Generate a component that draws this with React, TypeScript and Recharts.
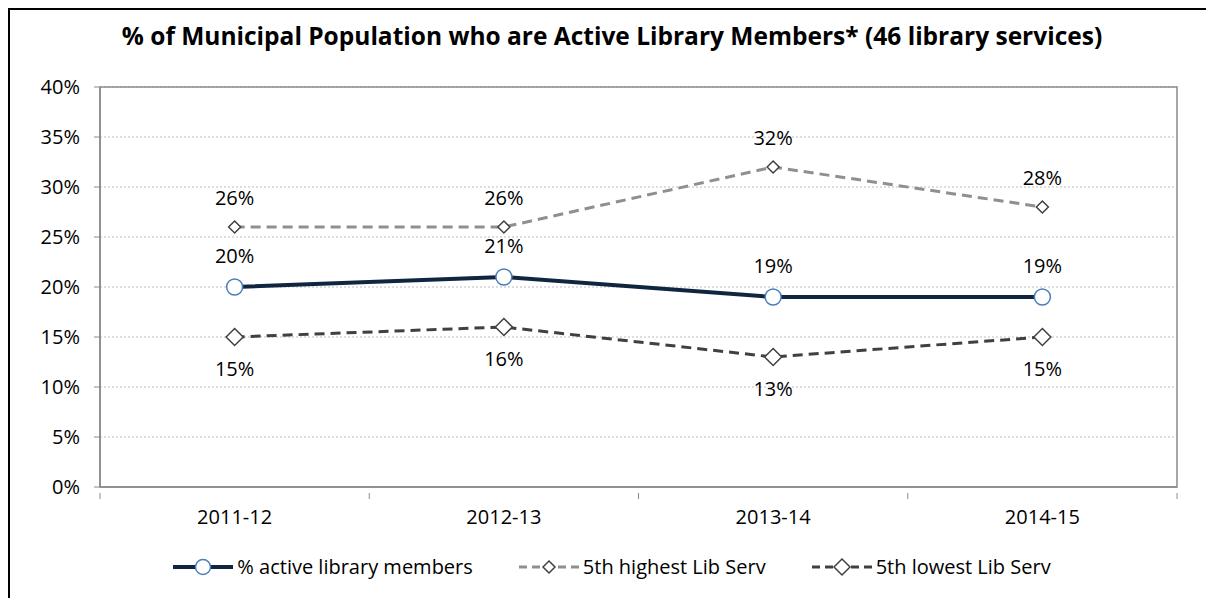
import React from "react";
import {
  LineChart,
  Line,
  XAxis,
  YAxis,
  CartesianGrid,
  ReferenceArea,
  LabelList,
} from "recharts";

const YEARS = ["2011-12", "2012-13", "2013-14", "2014-15"];
const ACTIVE = [20, 21, 19, 19];
const HIGH5 = [26, 26, 32, 28];
const LOW5 = [15, 16, 13, 15];
const Y_TICKS = [0, 5, 10, 15, 20, 25, 30, 35, 40];

const NAVY = "#10253f";
const LIGHT = "#8f8f8f";
const DARK = "#404040";
const AXIS = "#8a8a8a";
const FONT = "'Open Sans', Lato, sans-serif";
const FS = 20;

const data = YEARS.map((y, i) => ({
  year: y,
  active: ACTIVE[i],
  high: HIGH5[i],
  low: LOW5[i],
}));

const pct = (v: any) => `${v}%`;

// losango branco com contorno escuro
const diamond = (half: number) => (p: any) => {
  const { cx, cy, index } = p;
  if (cx == null || cy == null) return <g key={index} />;
  return (
    <path
      key={index}
      d={`M${cx},${cy - half} L${cx + half},${cy} L${cx},${cy + half} L${cx - half},${cy} Z`}
      fill="#fff"
      stroke={DARK}
      strokeWidth={1.5}
    />
  );
};

// rótulo do eixo X + marcas nas divisas das categorias
const YearTick = (p: any) => {
  const { x, y, payload, index, visibleTicksCount } = p;
  const off = payload.offset || 0;
  const isLast = index === visibleTicksCount - 1;
  return (
    <g>
      <line x1={x - off} y1={y - 18} x2={x - off} y2={y - 12} stroke={AXIS} />
      {isLast && <line x1={x + off} y1={y - 18} x2={x + off} y2={y - 12} stroke={AXIS} />}
      <text x={x} y={y - 1} dy="0.71em" textAnchor="middle" fill="#000" fontSize={FS}>
        {payload.value}
      </text>
    </g>
  );
};

const LegendIcon = ({ kind }: { kind: "active" | "high" | "low" }) => {
  const stroke = kind === "active" ? NAVY : kind === "high" ? LIGHT : DARK;
  const half = kind === "low" ? 8 : 6;
  return (
    <svg width={60} height={20} style={{ display: "block" }}>
      <line
        x1={0}
        y1={10}
        x2={60}
        y2={10}
        stroke={stroke}
        strokeWidth={kind === "active" ? 4 : 3}
        strokeDasharray={kind === "active" ? undefined : "8 5"}
      />
      {kind === "active" ? (
        <circle cx={30} cy={10} r={7.5} fill="#fff" stroke="#4a7ebb" strokeWidth={1.5} />
      ) : (
        <path
          d={`M30,${10 - half} L${30 + half},10 L30,${10 + half} L${30 - half},10 Z`}
          fill="#fff"
          stroke={DARK}
          strokeWidth={1.5}
        />
      )}
    </svg>
  );
};

const LEGEND: { kind: "active" | "high" | "low"; label: string }[] = [
  { kind: "active", label: "% active library members" },
  { kind: "high", label: "5th highest Lib Serv" },
  { kind: "low", label: "5th lowest Lib Serv" },
];

export default function App() {
  return (
    <div
      style={{
        position: "relative",
        width: 1206,
        height: 590,
        boxSizing: "border-box",
        borderLeft: "2px solid #000",
        borderTop: "2px solid #000",
        background: "#fff",
        fontFamily: FONT,
      }}
    >
      <div
        style={{
          position: "absolute",
          top: 9,
          left: 0,
          width: 1204,
          textAlign: "center",
          fontSize: 24.5,
          fontWeight: 700,
          color: "#000",
        }}
      >
        % of Municipal Population who are Active Library Members* (46 library services)
      </div>

      <LineChart
        width={1204}
        height={588}
        data={data}
        margin={{ top: 77, right: 37, bottom: 81, left: 0 }}
        style={{ fontFamily: FONT }}
      >
        <CartesianGrid
          horizontal
          vertical={false}
          stroke="#bdbdbd"
          strokeDasharray="2 2"
        />
        <XAxis
          dataKey="year"
          scale="band"
          height={30}
          axisLine={{ stroke: AXIS, strokeWidth: 1.5 }}
          tickLine={false}
          tickMargin={18}
          tick={<YearTick />}
        />
        <YAxis
          width={90}
          domain={[0, 40]}
          ticks={Y_TICKS}
          tickFormatter={pct}
          axisLine={{ stroke: AXIS, strokeWidth: 1.5 }}
          tickLine={{ stroke: AXIS }}
          tickSize={6}
          tickMargin={14}
          tick={{ fill: "#000", fontSize: FS }}
        />
        <ReferenceArea
          x1={YEARS[0]}
          x2={YEARS[YEARS.length - 1]}
          y1={0}
          y2={40}
          fill="none"
          stroke={AXIS}
          strokeWidth={1.5}
          ifOverflow="visible"
        />
        <Line
          dataKey="high"
          stroke={LIGHT}
          strokeWidth={3}
          strokeDasharray="10 6"
          dot={diamond(6)}
          activeDot={false}
          isAnimationActive={false}
        >
          <LabelList dataKey="high" position="top" offset={22} formatter={pct} fill="#000" fontSize={FS} />
        </Line>
        <Line
          dataKey="low"
          stroke={DARK}
          strokeWidth={3}
          strokeDasharray="10 6"
          dot={diamond(8.5)}
          activeDot={false}
          isAnimationActive={false}
        >
          <LabelList dataKey="low" position="bottom" offset={25} formatter={pct} fill="#000" fontSize={FS} />
        </Line>
        <Line
          dataKey="active"
          stroke={NAVY}
          strokeWidth={4}
          dot={{ r: 8, fill: "#fff", stroke: "#4a7ebb", strokeWidth: 1.5 }}
          activeDot={false}
          isAnimationActive={false}
        >
          <LabelList dataKey="active" position="top" offset={24} formatter={pct} fill="#000" fontSize={FS} />
        </Line>
      </LineChart>

      <div
        style={{
          position: "absolute",
          top: 543,
          left: 0,
          width: 1204,
          display: "flex",
          justifyContent: "center",
          gap: 46,
          fontSize: FS,
          color: "#000",
        }}
      >
        {LEGEND.map((it) => (
          <div key={it.kind} style={{ display: "flex", alignItems: "center", gap: 4 }}>
            <LegendIcon kind={it.kind} />
            <span>{it.label}</span>
          </div>
        ))}
      </div>
    </div>
  );
}
